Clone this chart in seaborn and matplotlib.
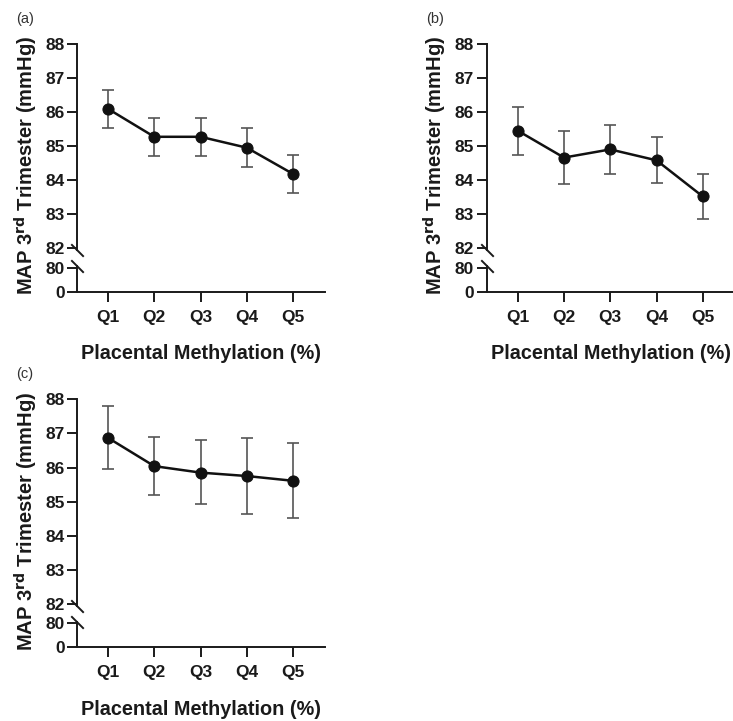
import matplotlib
matplotlib.use("Agg")
import matplotlib.pyplot as plt
import seaborn as sns
import pandas as pd

# quintiles of placental methylation
quintiles = ["Q1", "Q2", "Q3", "Q4", "Q5"]

# MAP 3rd trimester, mean and error bar ends, per panel
map_a = [86.09, 85.27, 85.27, 84.95, 84.18]
lo_a = [85.53, 84.71, 84.71, 84.38, 83.62]
hi_a = [86.65, 85.83, 85.83, 85.53, 84.75]

map_b = [85.45, 84.66, 84.90, 84.58, 83.52]
lo_b = [84.75, 83.90, 84.17, 83.92, 82.87]
hi_b = [86.14, 85.43, 85.63, 85.26, 84.17]

map_c = [86.87, 86.04, 85.85, 85.75, 85.61]
lo_c = [85.96, 85.19, 84.92, 84.65, 84.51]
hi_c = [87.80, 86.89, 86.80, 86.86, 86.71]

upper_ticks = [82, 83, 84, 85, 86, 87, 88]
lower_ticks = [0, 80]

sns.set_theme(style="ticks")
plt.rcParams["font.family"] = ["Liberation Sans", "DejaVu Sans"]
plt.rcParams["font.weight"] = "bold"

W, H = 733, 721
fig = plt.figure(figsize=(W / 100, H / 100), dpi=100)


def px_axes(left, top, bottom, width=248):
    """Axes from pixel box (top-left origin)."""
    return fig.add_axes([left / W, 1 - bottom / H, width / W, (bottom - top) / H])


def break_mark(ax, y):
    ax.plot([0], [y], transform=ax.transAxes, marker=[(-1, 1), (1, -1)],
            markersize=9, linestyle="none", color="#1a1a1a", mec="#1a1a1a",
            mew=1.4, clip_on=False)


def draw_panel(left, top, tag, means, lo, hi):
    # pixel layout: 88 at top, 82 at top + 204.6
    unit = 34.1
    ax_top = px_axes(left, top, top + 6.05 * unit)
    zero_y = top + 248.0
    ax_bot = px_axes(left, zero_y - 25.3, zero_y)

    df = pd.DataFrame({"x": range(len(quintiles)), "y": means})
    errs = [[m - l for m, l in zip(means, lo)], [h - m for m, h in zip(means, hi)]]
    ax_top.errorbar(df["x"], df["y"], yerr=errs, fmt="none", ecolor="#555555",
                    elinewidth=1.2, capsize=4.5, capthick=1.2, zorder=2)
    sns.lineplot(data=df, x="x", y="y", ax=ax_top, color="#111111", linewidth=1.8,
                 marker="o", markersize=8, markeredgecolor="#111111", zorder=3)

    for ax in (ax_top, ax_bot):
        ax.set_xlim(-0.67, 4.69)
        ax.spines["top"].set_visible(False)
        ax.spines["right"].set_visible(False)
        for s in ("left", "bottom"):
            ax.spines[s].set_linewidth(1.4)
            ax.spines[s].set_color("#1a1a1a")
        ax.tick_params(axis="both", length=7.5, width=1.4, color="#1a1a1a",
                       labelsize=12.5, labelcolor="#1a1a1a", pad=1.5)
        ax.set_xlabel("")
        ax.set_ylabel("")
        ax.patch.set_alpha(0)

    ax_top.set_ylim(81.95, 88)
    ax_top.set_yticks(upper_ticks)
    ax_top.spines["bottom"].set_visible(False)
    ax_top.set_xticks([])

    ax_bot.set_ylim(0, 84.3)
    ax_bot.set_yticks(lower_ticks)
    ax_bot.set_xticks(range(len(quintiles)))
    ax_bot.set_xticklabels(quintiles)
    ax_bot.tick_params(axis="x", length=7, pad=6, labelsize=12.5)

    break_mark(ax_top, 0)
    break_mark(ax_bot, 1)

    ax_bot.set_xlabel("Placental Methylation (%)", fontsize=14.3, fontweight="bold",
                      color="#1a1a1a", labelpad=14)
    fig.text((left - 51) / W, 1 - (top + 122) / H, "MAP 3$^{\\mathbf{rd}}$ Trimester (mmHg)",
             rotation=90, ha="center", va="center", fontsize=14.5, fontweight="bold",
             color="#1a1a1a")
    fig.text((left - 61) / W, 1 - (top - 25) / H, tag, ha="left", va="center",
             fontsize=10.5, fontweight="normal", color="#333333")


draw_panel(77, 43.7, "(a)", map_a, lo_a, hi_a)
draw_panel(486.7, 43.7, "(b)", map_b, lo_b, hi_b)
draw_panel(77, 399.3, "(c)", map_c, lo_c, hi_c)

fig.savefig("out.png", dpi=100)
